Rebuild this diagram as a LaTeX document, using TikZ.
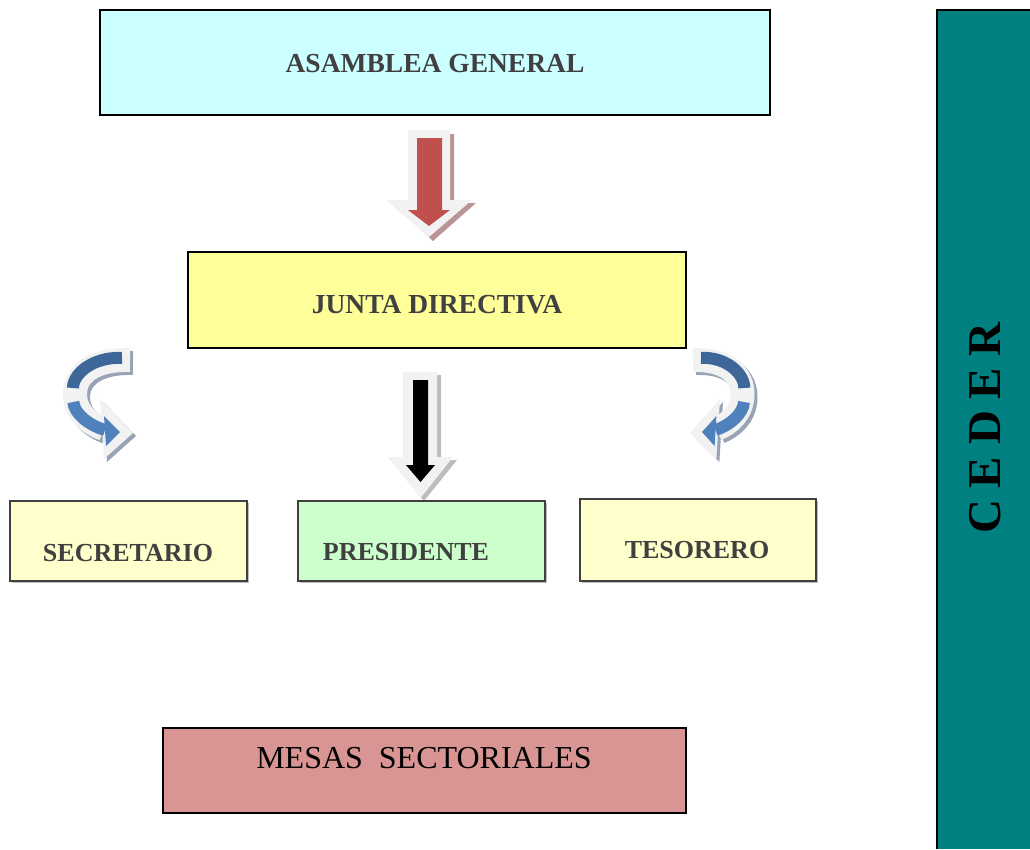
\documentclass[tikz,border=0pt]{standalone}
\usepackage{fontspec}
\setmainfont{Liberation Serif}
\definecolor{cyanbox}{HTML}{CCFFFF}
\definecolor{yelbox}{HTML}{FFFF99}
\definecolor{paleyel}{HTML}{FFFFCC}
\definecolor{palegreen}{HTML}{CCFFCC}
\definecolor{mesasred}{HTML}{D99594}
\definecolor{tealbox}{HTML}{008080}
\definecolor{txtgray}{HTML}{404040}
\definecolor{arrred}{HTML}{C0504D}
\definecolor{redshadow}{HTML}{B89494}
\definecolor{greyshadow}{HTML}{BDBDBD}
\definecolor{blueshadow}{HTML}{98A4B6}
\definecolor{bevelwhite}{HTML}{F2F2F2}
\definecolor{darkblue}{HTML}{3D6699}
\definecolor{lightblue}{HTML}{4F81BD}
\tikzset{
  box/.style={draw=black, line width=1.5pt, inner sep=0pt, outer sep=0pt},
  lowbox/.style={draw=txtgray, line width=1.5pt, inner sep=0pt, outer sep=0pt},
  bigtitle/.style={inner sep=0pt, text=txtgray, font=\fontsize{27.5}{30}\selectfont\bfseries},
  lowtitle/.style={inner sep=0pt, text=txtgray, font=\fontsize{26}{28}\selectfont\bfseries},
}
\newcommand\bendarrowdraw[1]{%
  % shadow
  \begin{scope}[shift={(#1,3)}]
    \draw[line width=24pt, blueshadow] (130,360) .. controls (92,359) and (75,375) .. (75,394) .. controls (75,413) and (90,424) .. (104,429);
    \fill[blueshadow] (100,399) -- (133,433) -- (104,459) -- cycle;
  \end{scope}
  % white bevel
  \draw[line width=24pt, bevelwhite] (130,360) .. controls (92,359) and (75,375) .. (75,394) .. controls (75,413) and (90,424) .. (104,429);
  \fill[bevelwhite] (100,399) -- (133,433) -- (104,459) -- cycle;
  % blue face
  \draw[line width=12pt, darkblue, shorten <=8pt, shorten >=6pt] (130,358) .. controls (92,357) and (73,374) .. (73,394);
  \draw[line width=12pt, lightblue, shorten <=6pt] (73,396) .. controls (74,413) and (88,425) .. (105,430);
  \fill[lightblue] (104,416) -- (120,432) -- (106,446) -- cycle;
}
\begin{document}
\begin{tikzpicture}[x=1pt, y=-1pt]
\useasboundingbox (0,0) rectangle (1030,849);

% CEDER column
\fill[tealbox] (937,10) rectangle (1030,849);
\draw[line width=1.5pt] (937,849) -- (937,10) -- (1030,10);
\node[inner sep=0pt, rotate=90, font=\fontsize{47}{50}\selectfont\bfseries] (ceder) at (985,428) {C E D E R};

% Asamblea
\node[box, fill=cyanbox, minimum width=670pt, minimum height=105pt] (asamblea) at (435,62.5) {};
\node[bigtitle] (asambleaT) at (435,64) {ASAMBLEA GENERAL};

% red arrow
\fill[redshadow] (412,134) -- (454,134) -- (454,203) -- (476,203) -- (433,241) -- (392,203) -- (412,203) -- cycle;
\fill[bevelwhite] (408,130) -- (450,130) -- (450,200) -- (472,200) -- (429,237) -- (386,200) -- (408,200) -- cycle;
\fill[arrred] (417,138) -- (442,138) -- (442,210) -- (450,210) -- (429,226) -- (408,210) -- (417,210) -- cycle;

% Junta
\node[box, fill=yelbox, minimum width=498pt, minimum height=96pt] (junta) at (437,300) {};
\node[bigtitle] (juntaT) at (437,305) {JUNTA DIRECTIVA};

% black arrow
\fill[greyshadow] (407,375) -- (441,375) -- (441,460) -- (457,460) -- (424,501) -- (392,460) -- (407,460) -- cycle;
\fill[bevelwhite] (403,372) -- (437,372) -- (437,457) -- (453,457) -- (420.5,498) -- (388,457) -- (403,457) -- cycle;
\fill[black] (413,380) -- (428,380) -- (428,465) -- (435,465) -- (420.5,482) -- (406,465) -- (413,465) -- cycle;

% curved arrows
\bendarrowdraw{3}
\begin{scope}[shift={(810,0)}, xscale=-0.9]
\bendarrowdraw{-3.3}
\end{scope}

% lower boxes
\fill[greyshadow] (12,503) rectangle (249,583);
\node[lowbox, fill=paleyel, minimum width=237pt, minimum height=80pt] (secretario) at (128.5,541) {};
\node[lowtitle] (secretarioT) at (128,553) {SECRETARIO};

\fill[greyshadow] (300,503) rectangle (547,583);
\node[lowbox, fill=palegreen, minimum width=247pt, minimum height=80pt] (presidente) at (421.5,541) {};
\node[lowtitle] (presidenteT) at (406,552) {PRESIDENTE};

\fill[greyshadow] (582,501) rectangle (818,583);
\node[lowbox, fill=paleyel, minimum width=236pt, minimum height=82pt] (tesorero) at (698,540) {};
\node[lowtitle] (tesoreroT) at (697,550) {TESORERO};

% Mesas
\node[box, fill=mesasred, minimum width=523pt, minimum height=85pt] (mesas) at (424.5,770.5) {};
\node[inner sep=0pt, font=\fontsize{32}{34}\selectfont] (mesasT) at (424,758) {MESAS\ \ SECTORIALES};
\end{tikzpicture}
\end{document}
